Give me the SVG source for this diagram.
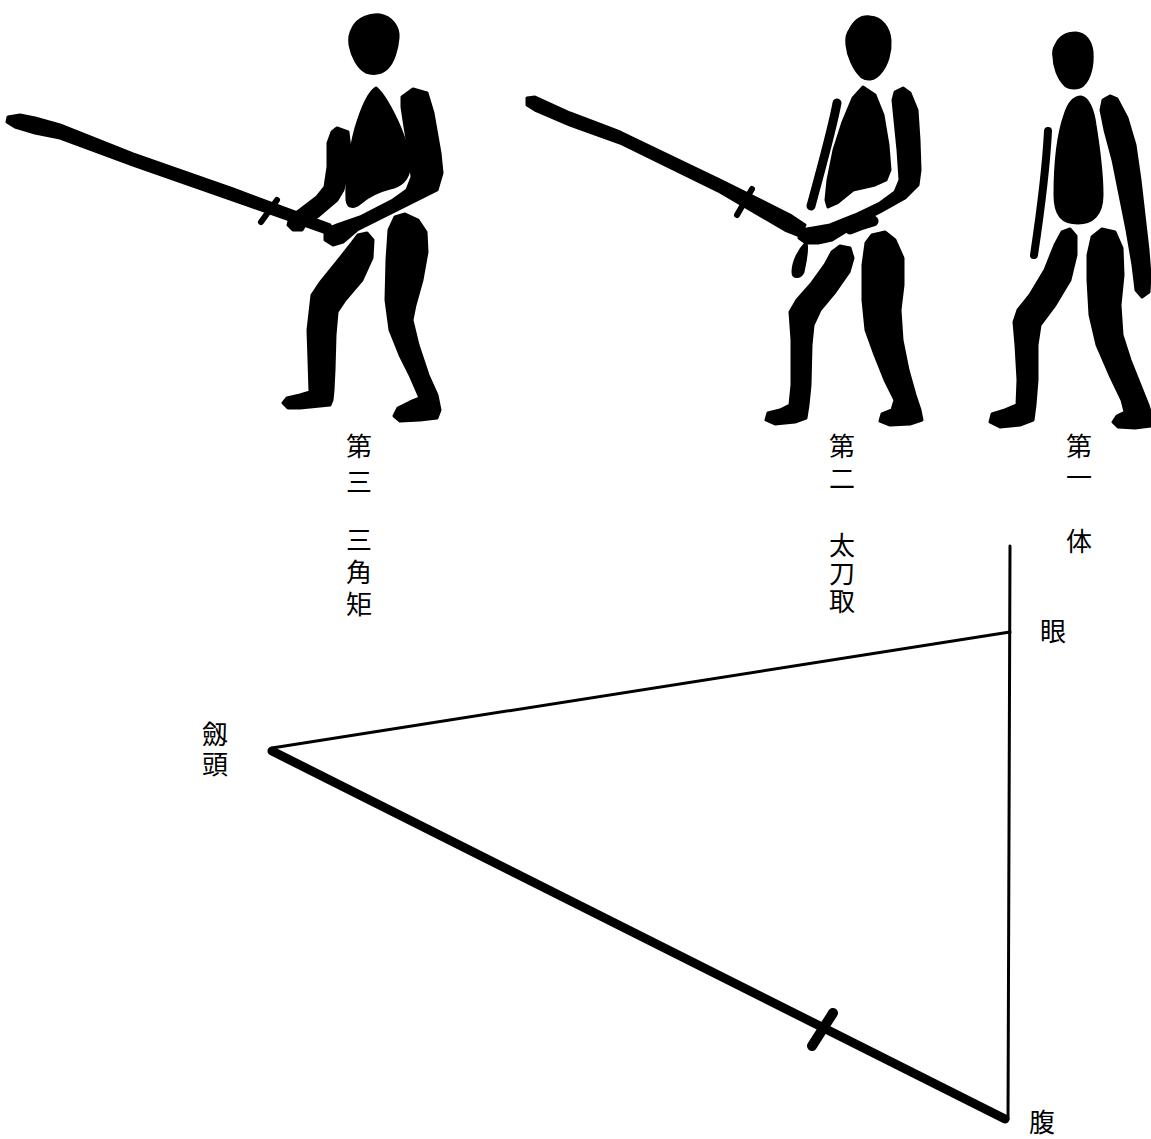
<svg xmlns="http://www.w3.org/2000/svg" width="1151" height="1139" viewBox="0 0 1151 1139">
  <style>
    .ink { fill: #000; stroke: #000; stroke-width: 3; stroke-linejoin: round; }
    .limb { fill: none; stroke: #000; stroke-linecap: round; stroke-linejoin: round; }
    .lbl { font-family: "Noto Sans CJK JP", "Noto Sans CJK SC", sans-serif; font-size: 26px; fill: #000; text-anchor: middle; }
    .vert { font-family: "Noto Sans CJK JP", "Noto Sans CJK SC", sans-serif; font-size: 26px; fill: #000; writing-mode: vertical-rl; text-anchor: start; }
    .line { fill: none; stroke: #000; stroke-linecap: round; }
  </style>
  <rect width="1151" height="1139" fill="#fff"/>

  <!-- third stance: sword held low, point raised to the left -->
  <g id="figure-third">
    <path class="ink" d="M353,28 C358,18 370,14 380,15 C392,17 399,28 398,38 C397,50 393,62 388,67 C383,73 374,75 366,72 C358,68 352,56 350,45 C349,38 350,33 353,28 Z"/>
    <path class="ink" d="M376,88 C384,95 392,110 400,128 C406,142 410,158 409,170 C407,180 400,186 390,188 C378,191 368,196 360,203 C354,208 348,208 347,200 C346,180 350,150 356,128 C362,108 369,92 376,88 Z"/>
    <polygon class="ink" points="402,97 413,89 427,93 433,113 440,153 442,173 437,190 417,200 383,217 357,230 343,242 333,245 325,240 325,230 337,225 360,217 393,200 407,190 412,177 410,157 405,127 402,107"/>
    <polygon class="ink" points="337,128 348,132 350,150 347,173 343,190 337,200 317,217 307,222 302,230 293,230 288,225 290,217 300,210 317,197 325,187 328,167 328,143 332,132"/>
    <polygon class="ink" points="8,117 20,115 35,118 60,125 133,154 233,189 330,225 335,236 233,200 133,165 60,138 35,133 15,127 7,122"/>
    <line class="limb" x1="277" y1="200" x2="261" y2="222" stroke-width="6"/>
    <polygon class="ink" points="367,233 373,240 372,258 362,280 345,300 337,312 335,335 334,370 333,390 332,400 330,405 300,408 288,408 283,403 287,398 300,395 310,392 309,360 308,330 312,295 320,283 337,262 352,243 358,235"/>
    <polygon class="ink" points="395,217 405,214 418,220 426,232 427,252 422,280 415,305 412,320 418,345 428,375 437,395 440,410 437,418 420,420 400,421 394,416 398,408 410,402 420,398 410,375 400,355 390,330 386,300 387,260 389,230"/>
  </g>

  <!-- second stance: taking up the sword -->
  <g id="figure-second">
    <path class="ink" d="M850,30 C855,20 862,16 870,17 C882,18 889,28 890,40 C891,52 887,65 880,73 C875,79 868,81 862,77 C854,70 848,56 847,45 C846,38 847,34 850,30 Z"/>
    <polygon class="ink" points="863,87 875,95 883,115 888,145 890,170 886,180 875,185 853,190 837,203 828,207 826,200 828,180 834,150 843,122 853,98"/>
    <polygon class="ink" points="895,92 903,88 910,93 917,110 919,140 920,170 918,185 905,198 880,212 860,222 845,232 832,240 818,243 806,243 799,238 800,230 813,228 830,225 855,215 880,203 895,192 900,180 898,150 895,120 893,100"/>
    <path class="limb" d="M837,103 C832,130 822,165 811,206" stroke-width="9"/>
    <path class="limb" d="M850,229 Q862,224 873,221" stroke-width="11"/>
    <path class="ink" d="M806,243 C808,250 805,262 803,272 C800,278 793,278 793,272 C793,262 799,250 806,243 Z"/>
    <polygon class="ink" points="527,98 535,97 570,113 620,132 720,180 790,215 805,225 800,236 785,230 720,192 620,143 570,125 535,110 527,105"/>
    <line class="limb" x1="752" y1="189" x2="737" y2="215" stroke-width="6"/>
    <polygon class="ink" points="840,246 850,248 853,258 849,272 835,292 820,310 813,325 811,345 810,385 808,405 806,418 795,422 775,424 766,420 768,413 780,410 790,405 792,385 792,340 790,312 797,300 812,283 825,265 832,252"/>
    <polygon class="ink" points="872,235 885,232 895,240 903,258 903,285 900,310 902,340 908,370 915,395 920,410 922,420 910,424 890,425 880,421 882,414 892,410 895,400 885,380 875,355 866,330 863,300 863,265 866,243"/>
  </g>

  <!-- first stance: the body alone -->
  <g id="figure-first">
    <path class="ink" d="M1056,45 C1060,36 1068,33 1076,33 C1086,34 1091,42 1092,52 C1093,65 1090,78 1083,85 C1078,89 1070,89 1065,85 C1058,78 1054,66 1054,57 C1053,52 1054,48 1056,45 Z"/>
    <path class="ink" d="M1081,97 C1088,98 1093,110 1095,125 C1099,150 1102,175 1102,195 C1102,215 1092,223 1078,223 C1062,223 1055,215 1055,195 C1055,165 1058,135 1065,115 C1069,102 1075,97 1081,97 Z"/>
    <path class="limb" d="M1048,131 C1046,170 1040,215 1034,255" stroke-width="8"/>
    <polygon class="ink" points="1103,100 1110,96 1117,99 1127,118 1135,145 1140,180 1144,215 1148,250 1150,275 1149,292 1142,297 1136,290 1133,265 1127,230 1120,195 1113,160 1105,130 1101,110"/>
    <polygon class="ink" points="1062,232 1070,229 1076,236 1076,255 1070,280 1055,305 1040,325 1037,345 1037,380 1035,405 1033,420 1020,425 1000,427 990,422 992,414 1005,410 1017,405 1018,380 1016,345 1014,322 1018,310 1030,295 1045,270 1055,245"/>
    <polygon class="ink" points="1092,237 1102,229 1115,232 1122,248 1123,275 1120,305 1122,335 1130,360 1140,385 1148,405 1151,415 1151,426 1135,428 1118,427 1113,422 1117,416 1125,412 1122,400 1110,375 1097,345 1090,315 1088,280 1088,255"/>
  </g>

  <!-- stance captions, set vertically -->
  <g id="captions">
    <text class="vert" x="359" y="433" letter-spacing="10">第三</text>
    <text class="vert" x="359" y="527" letter-spacing="6">三角矩</text>
    <text class="vert" x="842" y="433" letter-spacing="6">第二</text>
    <text class="vert" x="842" y="532" letter-spacing="2">太刀取</text>
    <text class="vert" x="1079" y="433" letter-spacing="5">第一</text>
    <text class="vert" x="1079" y="528">体</text>
  </g>

  <!-- eye, sword point and belly triangle -->
  <g id="connectors">
    <line class="line" x1="1010" y1="546" x2="1008" y2="1119" stroke-width="3"/>
    <line class="line" x1="1010" y1="632" x2="272" y2="748" stroke-width="3"/>
    <line class="line" x1="272" y1="751" x2="1005" y2="1119" stroke-width="9"/>
    <line class="line" x1="833" y1="1013" x2="812" y2="1046" stroke-width="10"/>
  </g>

  <g id="point-labels">
    <text class="lbl" x="1053" y="641">眼</text>
    <text class="vert" x="215" y="721" letter-spacing="4">劔頭</text>
    <text class="lbl" x="1042" y="1132">腹</text>
  </g>
</svg>
